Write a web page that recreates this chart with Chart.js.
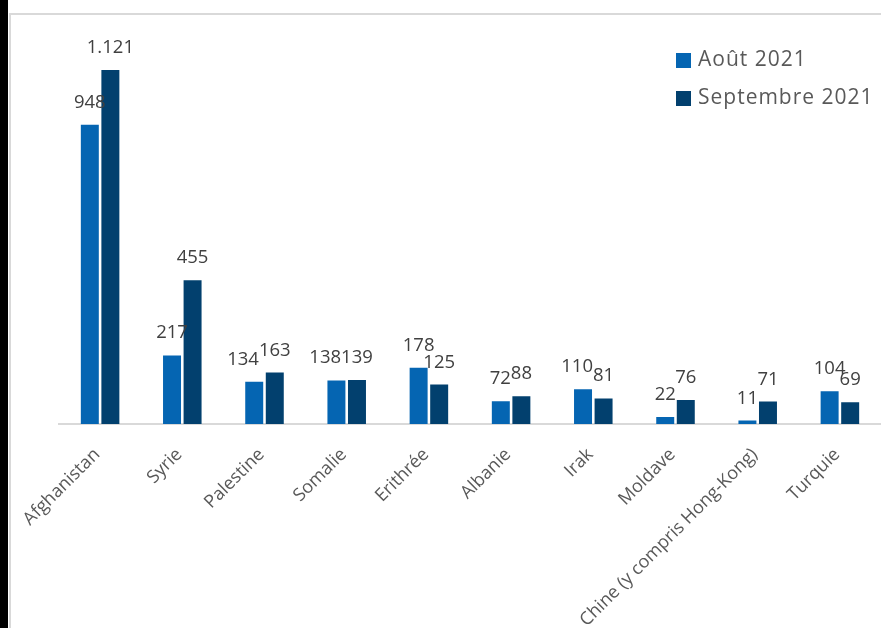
<!DOCTYPE html>
<html lang="fr">
<head>
    <meta charset="UTF-8" />
    <title>Demandes d'asile - août / septembre 2021</title>
    <style>
        * { margin: 0; padding: 0; box-sizing: border-box; }
        body {
            width: 881px;
            height: 628px;
            overflow: hidden;
            background: #ffffff;
            position: relative;
            font-family: 'Open Sans', sans-serif;
        }
        /* dark strip on the left and the light frame around the chart */
        .strip {
            position: absolute;
            left: 0; top: 0;
            width: 8px; height: 628px;
            background: #000000;
        }
        .frame {
            position: absolute;
            left: 9px; top: 13px;
            width: 900px; height: 700px;
            border: 2px solid #d9d9d9;
        }
        #chart {
            position: absolute;
            left: 0; top: 0;
        }
    </style>
</head>
<body>
    <div class="strip"></div>
    <div class="frame"></div>
    <canvas id="chart" width="881" height="628"></canvas>

    <script src="https://cdn.jsdelivr.net/npm/chart.js"></script>
    <script>
        const categories = ['Afghanistan', 'Syrie', 'Palestine', 'Somalie', 'Erithrée',
            'Albanie', 'Irak', 'Moldave', 'Chine (y compris Hong-Kong)', 'Turquie'];
        const aout2021 = [948, 217, 134, 138, 178, 72, 110, 22, 11, 104];
        const septembre2021 = [1121, 455, 163, 139, 125, 88, 81, 76, 71, 69];
        const seriesNames = ['Août 2021', 'Septembre 2021'];

        const textColor = '#595959';
        const fontFamily = '"Open Sans", sans-serif';

        // 1121 -> "1.121"
        function fmt(v) {
            return String(v).replace(/\B(?=(\d{3})+(?!\d))/g, '.');
        }

        // value printed above every bar; when the two labels of a country
        // collide, the first one is pushed to the left
        const barValues = {
            id: 'barValues',
            afterDatasetsDraw(chart) {
                const ctx = chart.ctx;
                const size = 18.5;
                ctx.save();
                ctx.font = size + 'px ' + fontFamily;
                ctx.fillStyle = '#404040';
                ctx.textAlign = 'center';
                ctx.textBaseline = 'alphabetic';
                const m0 = chart.getDatasetMeta(0).data;
                const m1 = chart.getDatasetMeta(1).data;
                m0.forEach((bar0, j) => {
                    const bar1 = m1[j];
                    const t0 = fmt(chart.data.datasets[0].data[j]);
                    const t1 = fmt(chart.data.datasets[1].data[j]);
                    const w0 = ctx.measureText(t0).width;
                    const w1 = ctx.measureText(t1).width;
                    let x0 = bar0.x;
                    const y0 = bar0.y - 17, y1 = bar1.y - 17;
                    if (Math.abs(y0 - y1) < 10) {
                        const overlap = (x0 + w0 / 2) - (bar1.x - w1 / 2);
                        if (overlap > 0) x0 -= overlap;
                    }
                    ctx.fillText(t0, x0, y0);
                    ctx.fillText(t1, bar1.x, y1);
                });
                ctx.restore();
            }
        };

        // legend in the top right corner, inside the plot
        const cornerLegend = {
            id: 'cornerLegend',
            afterDraw(chart) {
                const ctx = chart.ctx;
                ctx.save();
                ctx.font = '21px ' + fontFamily;
                ctx.letterSpacing = '1px';
                ctx.textBaseline = 'middle';
                ctx.textAlign = 'left';
                chart.data.datasets.forEach((ds, i) => {
                    const y = 60.5 + i * 38;
                    ctx.fillStyle = ds.backgroundColor;
                    ctx.fillRect(676, y - 7.5, 15, 15);
                    ctx.fillStyle = textColor;
                    ctx.fillText(ds.label, 698, y);
                });
                ctx.restore();
            }
        };

        new Chart(document.getElementById('chart'), {
            type: 'bar',
            data: {
                labels: categories,
                datasets: [
                    {
                        label: seriesNames[0],
                        data: aout2021,
                        backgroundColor: '#0565b2',
                        categoryPercentage: 0.5,
                        barPercentage: 0.875
                    },
                    {
                        label: seriesNames[1],
                        data: septembre2021,
                        backgroundColor: '#02406e',
                        categoryPercentage: 0.5,
                        barPercentage: 0.875
                    }
                ]
            },
            options: {
                responsive: false,
                animation: false,
                layout: {
                    padding: { left: 59, top: 13.5, right: 0, bottom: 0 }
                },
                plugins: {
                    legend: { display: false },
                    tooltip: { enabled: false }
                },
                scales: {
                    x: {
                        grid: { display: false, drawTicks: false },
                        border: { display: true, color: '#d9d9d9', width: 2 },
                        ticks: {
                            minRotation: 45,
                            maxRotation: 45,
                            autoSkip: false,
                            padding: 20,
                            labelOffset: -3,
                            color: textColor,
                            font: { family: fontFamily, size: 18 }
                        },
                        afterFit(scale) {
                            scale.height = 204;
                        }
                    },
                    y: {
                        display: false,
                        min: 0,
                        max: 1300
                    }
                }
            },
            plugins: [barValues, cornerLegend]
        });
    </script>
</body>
</html>
